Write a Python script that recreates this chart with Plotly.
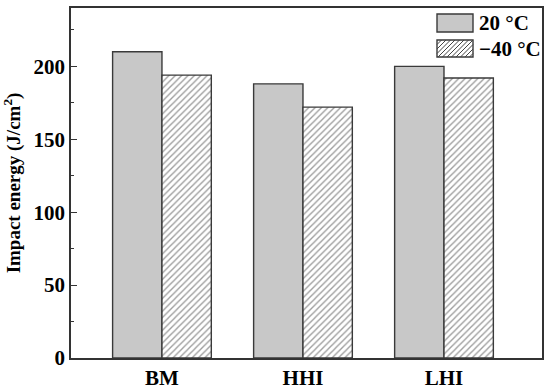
import plotly.graph_objects as go

categories = ["BM", "HHI", "LHI"]
series_names = ["20 °C", "\u221240 °C"]
values_20 = [210, 188, 200]
values_m40 = [194, 172, 192]
y_ticks = [0, 50, 100, 150, 200]

W, H = 550, 389
L, R, T, B = 71, 8, 8, 31
pw, ph = W - L - R, H - T - B

FONT = "Liberation Serif"
EDGE = "#3a3a3a"

fig = go.Figure()
fig.add_trace(go.Bar(x=categories, y=values_20, name=series_names[0],
                     marker=dict(color="#c8c8c8", line=dict(color=EDGE, width=1.4)),
                     showlegend=False))
fig.add_trace(go.Bar(x=categories, y=values_m40, name=series_names[1],
                     marker=dict(color="white", line=dict(color=EDGE, width=1.4),
                                 pattern=dict(shape="/", size=4.5, solidity=0.3,
                                              fgcolor="#3a3a3a", bgcolor="white")),
                     showlegend=False))

# custom legend (swatches drawn as shapes, in paper coordinates)
def px2paper(x, y):
    return (x - L) / pw, (T + ph - y) / ph

shapes = []
def rect(x0, y0, x1, y1, fill):
    a = px2paper(x0, y1); b = px2paper(x1, y0)
    shapes.append(dict(type="rect", xref="paper", yref="paper",
                       x0=a[0], y0=a[1], x1=b[0], y1=b[1],
                       fillcolor=fill, line=dict(color=EDGE, width=1.4), layer="above"))

sx0, sx1 = 437, 473
rect(sx0, 14, sx1, 32, "#c8c8c8")
hy0, hy1 = 40, 57
rect(sx0, hy0, sx1, hy1, "white")
# hatch lines in second swatch
h = hy1 - hy0
step = 4.5
t = sx0 - h
while t < sx1:
    xa, ya = t, hy1
    xb, yb = t + h, hy0
    if xa < sx0:
        ya = hy1 - (sx0 - xa); xa = sx0
    if xb > sx1:
        yb = hy0 + (xb - sx1); xb = sx1
    if xb > xa:
        p = px2paper(xa, ya); q = px2paper(xb, yb)
        shapes.append(dict(type="line", xref="paper", yref="paper",
                           x0=p[0], y0=p[1], x1=q[0], y1=q[1],
                           line=dict(color="#444", width=1), layer="above"))
    t += step

annotations = []
for i, (name, yc) in enumerate(zip(series_names, [23, 48.5])):
    p = px2paper(477, yc)
    annotations.append(dict(x=p[0], y=p[1], xref="paper", yref="paper",
                            text="<b>%s</b>" % name, showarrow=False,
                            xanchor="left", yanchor="middle",
                            font=dict(family=FONT, size=21, color="black")))

fig.update_layout(
    width=W, height=H,
    margin=dict(l=L, r=R, t=T, b=B),
    paper_bgcolor="white", plot_bgcolor="white",
    barmode="group", bargap=0.3, bargroupgap=0,
    font=dict(family=FONT, size=18, color="black"),
    shapes=shapes, annotations=annotations,
    xaxis=dict(range=[-0.645, 2.695], showline=True, linecolor="#333", linewidth=1.5,
               mirror=True, ticks="", showgrid=False, automargin=False,
               tickvals=list(range(len(categories))), ticktext=["<b>%s</b>" % c for c in categories],
               tickfont=dict(family=FONT, size=21)),
    yaxis=dict(range=[0, 240], showline=True, linecolor="#333", linewidth=1.5,
               mirror=True, ticks="inside", ticklen=6, tickcolor="#333", tickwidth=1.3,
               showgrid=False, zeroline=False, automargin=False,
               tickvals=y_ticks, ticktext=["<b>%d</b>" % v for v in y_ticks],
               tickfont=dict(family=FONT, size=21),
               minor=dict(tickvals=[25, 75, 125, 175, 225], ticks="inside", ticklen=3,
                          tickcolor="#333", tickwidth=1.2),
               title=dict(text="<b>Impact energy (J/cm<sup>2</sup>)</b>",
                          font=dict(family=FONT, size=19), standoff=8)),
)

fig.write_html("out.html", config={"displayModeBar": False},
               post_script="document.body.style.margin='0px';document.body.style.overflow='hidden';")
